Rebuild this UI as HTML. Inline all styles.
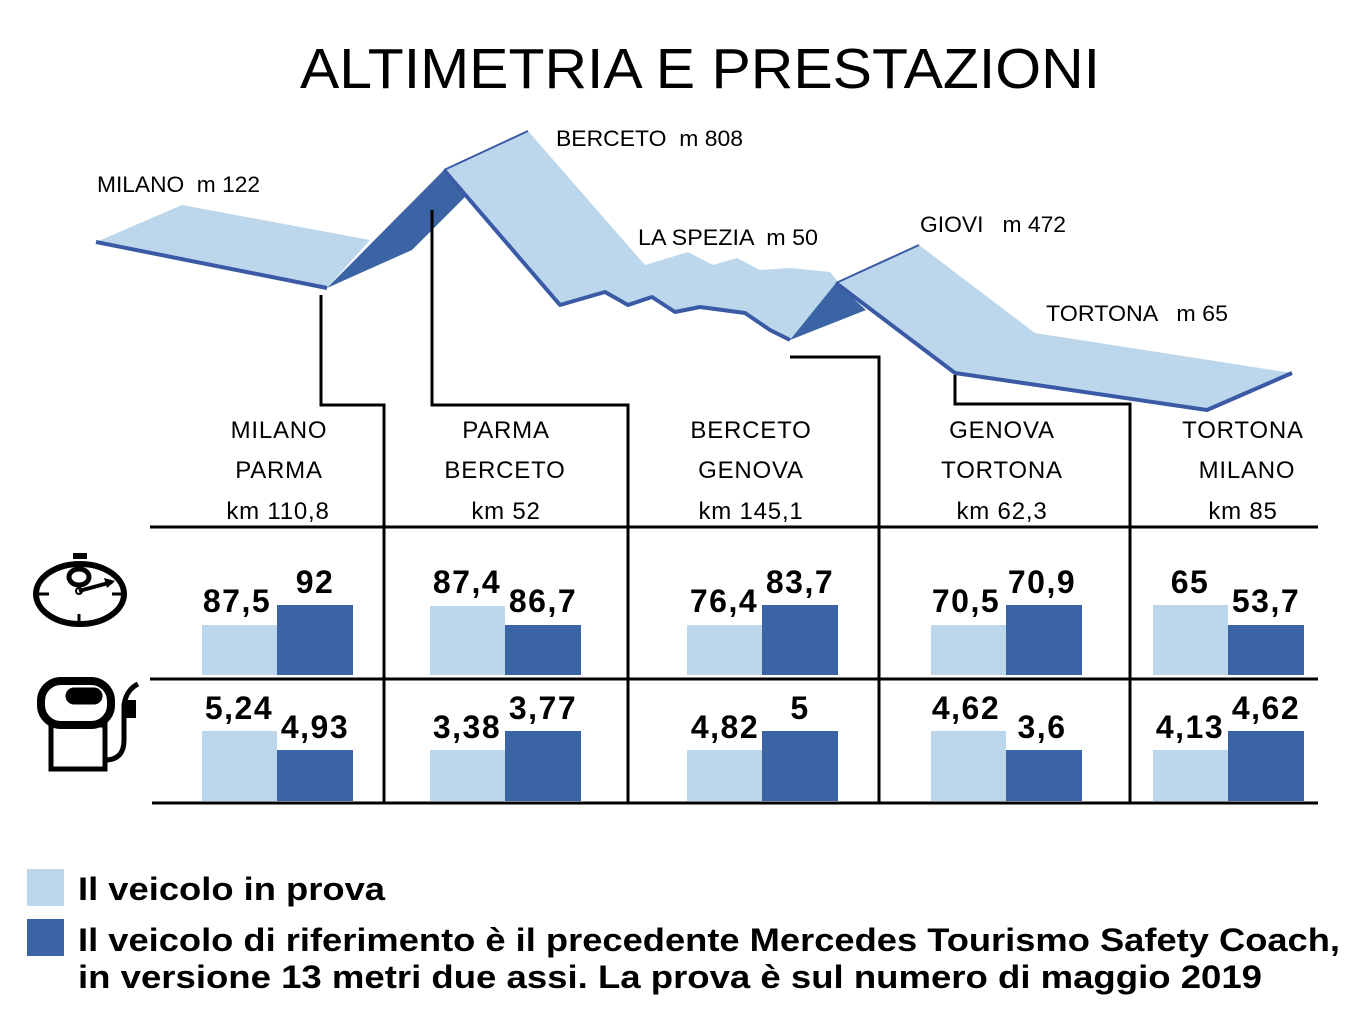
<!DOCTYPE html>
<html><head><meta charset="utf-8"><style>
html,body{margin:0;padding:0;background:#fff}
svg{display:block}
text{font-family:"Liberation Sans",Arial,sans-serif;white-space:pre}
</style></head><body>
<svg width="1368" height="1022" viewBox="0 0 1368 1022" xmlns="http://www.w3.org/2000/svg" xml:space="preserve">
<text x="300" y="88" font-size="57" textLength="800" lengthAdjust="spacingAndGlyphs" fill="#000">ALTIMETRIA E PRESTAZIONI</text>

<!-- profile -->
<g stroke-linejoin="round">
<polygon points="96,242 182,205 370,240 327,288" fill="#bcd7ec"/>
<polyline points="96,242 327,288" fill="none" stroke="#3a5aa6" stroke-width="4"/>
<polygon points="327,288 444,170 466,196 412,250" fill="#3a64a4"/>
<polygon points="444,170 528,131 645,265 688,252 713,265 737,258 760,270 790,268 830,272 838,282 790,340 770,330 745,313 700,307 675,312 652,297 628,305 605,292 560,305 466,196" fill="#bcd7ec"/>
<polyline points="444,170 528,131" fill="none" stroke="#3a5aa6" stroke-width="2"/>
<polyline points="444,170 560,305 605,292 628,305 652,297 675,312 700,307 745,313 770,330 790,340" fill="none" stroke="#3a5aa6" stroke-width="4"/>
<polygon points="790,340 836,283 866,310" fill="#3a64a4"/>
<polygon points="836,283 919,245 1035,333 1292,373 1207,410 955,373" fill="#bcd7ec"/>
<polyline points="836,283 919,245" fill="none" stroke="#3a5aa6" stroke-width="2"/>
<polyline points="836,283 955,373 1207,410 1292,373" fill="none" stroke="#3a5aa6" stroke-width="4"/>
</g>
<g font-size="22" fill="#000">
<text x="97" y="192" textLength="163" lengthAdjust="spacingAndGlyphs">MILANO  m 122</text>
<text x="556" y="146" textLength="187" lengthAdjust="spacingAndGlyphs">BERCETO  m 808</text>
<text x="638" y="245" textLength="180" lengthAdjust="spacingAndGlyphs">LA SPEZIA  m 50</text>
<text x="920" y="232" textLength="146" lengthAdjust="spacingAndGlyphs">GIOVI   m 472</text>
<text x="1046" y="321" textLength="182" lengthAdjust="spacingAndGlyphs">TORTONA   m 65</text>
</g>

<!-- connectors & grid -->
<g stroke="#000" stroke-width="3" fill="none">
<polyline points="321,295 321,405 384,405 384,803"/>
<polyline points="432,210 432,405 628,405 628,803"/>
<polyline points="790,357 879,357 879,803"/>
<polyline points="955,375 955,404 1130,404 1130,803"/>
<line x1="150" y1="527" x2="1318" y2="527"/>
<line x1="150" y1="679" x2="1318" y2="679"/>
<line x1="152" y1="803" x2="1318" y2="803"/>
</g>

<g font-size="24" fill="#000" text-anchor="middle" letter-spacing="0.8">
<text x="279" y="438">MILANO</text><text x="279" y="478">PARMA</text><text x="278" y="519">km 110,8</text>
<text x="506" y="438">PARMA</text><text x="505" y="478">BERCETO</text><text x="506" y="519">km 52</text>
<text x="751" y="438">BERCETO</text><text x="751" y="478">GENOVA</text><text x="751" y="519">km 145,1</text>
<text x="1002" y="438">GENOVA</text><text x="1002" y="478">TORTONA</text><text x="1002" y="519">km 62,3</text>
<text x="1243" y="438">TORTONA</text><text x="1247" y="478">MILANO</text><text x="1243" y="519">km 85</text>
</g>

<!-- bars -->
<g>
<rect x="202" y="625" width="75" height="50" fill="#bcd7ec"/><rect x="277" y="605" width="76" height="70" fill="#3a64a4"/>
<rect x="430" y="606" width="75" height="69" fill="#bcd7ec"/><rect x="505" y="625" width="76" height="50" fill="#3a64a4"/>
<rect x="687" y="625" width="75" height="50" fill="#bcd7ec"/><rect x="762" y="605" width="76" height="70" fill="#3a64a4"/>
<rect x="931" y="625" width="75" height="50" fill="#bcd7ec"/><rect x="1006" y="605" width="76" height="70" fill="#3a64a4"/>
<rect x="1153" y="605" width="75" height="70" fill="#bcd7ec"/><rect x="1228" y="625" width="76" height="50" fill="#3a64a4"/>

<rect x="202" y="731" width="75" height="70" fill="#bcd7ec"/><rect x="277" y="750" width="76" height="51" fill="#3a64a4"/>
<rect x="430" y="750" width="75" height="51" fill="#bcd7ec"/><rect x="505" y="731" width="76" height="70" fill="#3a64a4"/>
<rect x="687" y="750" width="75" height="51" fill="#bcd7ec"/><rect x="762" y="731" width="76" height="70" fill="#3a64a4"/>
<rect x="931" y="731" width="75" height="70" fill="#bcd7ec"/><rect x="1006" y="750" width="76" height="51" fill="#3a64a4"/>
<rect x="1153" y="750" width="75" height="51" fill="#bcd7ec"/><rect x="1228" y="731" width="76" height="70" fill="#3a64a4"/>
</g>
<g font-size="32" font-weight="bold" fill="#000" text-anchor="middle" letter-spacing="1.5">
<text x="237" y="612">87,5</text><text x="315" y="593">92</text>
<text x="467" y="593">87,4</text><text x="543" y="612">86,7</text>
<text x="724" y="612">76,4</text><text x="800" y="593">83,7</text>
<text x="966" y="612">70,5</text><text x="1042" y="593">70,9</text>
<text x="1190" y="593">65</text><text x="1266" y="612">53,7</text>

<text x="239" y="719">5,24</text><text x="315" y="738">4,93</text>
<text x="467" y="738">3,38</text><text x="543" y="719">3,77</text>
<text x="725" y="738">4,82</text><text x="800" y="719">5</text>
<text x="966" y="719">4,62</text><text x="1042" y="738">3,6</text>
<text x="1190" y="738">4,13</text><text x="1266" y="719">4,62</text>
</g>

<!-- stopwatch icon -->
<g stroke="#000" fill="none">
<ellipse cx="80" cy="594" rx="44" ry="30" stroke-width="6"/>
<rect x="73" y="553" width="14" height="6" fill="#000" stroke="none"/>
<ellipse cx="79" cy="577" rx="10" ry="8" stroke-width="5"/>
<line x1="79" y1="591" x2="112" y2="582" stroke-width="4"/>
<polygon points="104,578 115,581 107,588" fill="#000" stroke="none"/>
<circle cx="79" cy="591" r="3" stroke-width="2"/>
<line x1="39" y1="594" x2="49" y2="594" stroke-width="3"/>
<line x1="112" y1="594" x2="122" y2="594" stroke-width="3"/>
<line x1="79" y1="614" x2="79" y2="624" stroke-width="3"/>
</g>
<!-- fuel icon -->
<g stroke="#000" fill="none">
<rect x="41" y="681" width="70" height="44" rx="20" stroke-width="8"/>
<rect x="66" y="688" width="36" height="16" rx="8" fill="#000"/>
<rect x="51" y="725" width="54" height="44" stroke-width="5"/>
<path d="M105 760 Q124 760 124 740 L124 705 Q126 690 138 684" stroke-width="5"/>
<rect x="124" y="700" width="12" height="18" fill="#000" stroke="none"/>
</g>

<!-- legend -->
<rect x="27" y="869" width="37" height="37" fill="#bcd7ec"/>
<rect x="27" y="919" width="37" height="37" fill="#3a64a4"/>
<g font-size="32" font-weight="bold" fill="#000">
<text x="78" y="900" textLength="307" lengthAdjust="spacingAndGlyphs">Il veicolo in prova</text>
<text x="78" y="951" textLength="1262" lengthAdjust="spacingAndGlyphs">Il veicolo di riferimento è il precedente Mercedes Tourismo Safety Coach,</text>
<text x="78" y="988" textLength="1184" lengthAdjust="spacingAndGlyphs">in versione 13 metri due assi. La prova è sul numero di maggio 2019</text>
</g>
</svg>
</body></html>
